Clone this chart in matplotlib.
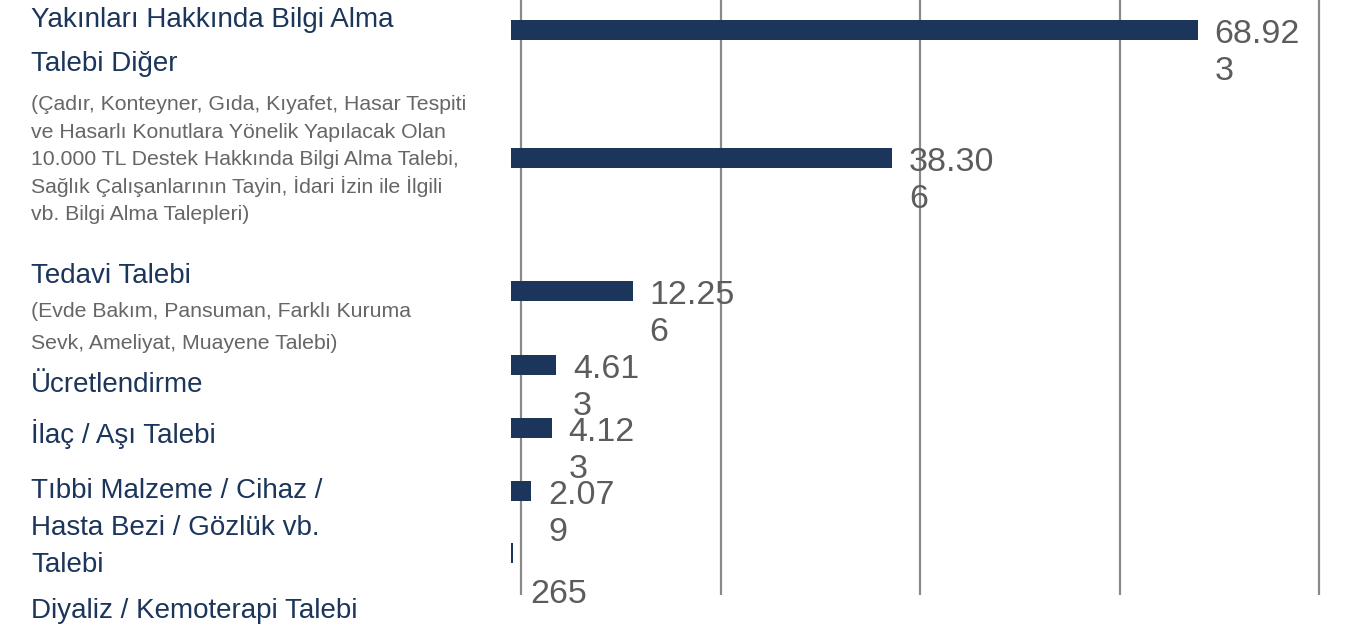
import matplotlib
matplotlib.use("Agg")
import matplotlib.pyplot as plt
import numpy as np

plt.rcParams['font.family'] = ['Liberation Sans', 'DejaVu Sans']

# ---- data ----
values = [68923, 38306, 12256, 4613, 4123, 2079, 265]
value_labels = ["68.92\n3", "38.30\n6", "12.25\n6", "4.61\n3", "4.12\n3", "2.07\n9", "\n265"]

# left-hand category texts (title lines in navy, detail lines in grey)
title_lines = ["Yakınları Hakkında Bilgi Alma", "Talebi Diğer", "Tedavi Talebi",
               "Ücretlendirme", "İlaç / Aşı Talebi", "Tıbbi Malzeme / Cihaz /",
               "Hasta Bezi / Gözlük vb.", "Talebi", "Diyaliz / Kemoterapi Talebi"]
detail_lines = ["(Çadır, Konteyner, Gıda, Kıyafet, Hasar Tespiti",
                "ve Hasarlı Konutlara Yönelik Yapılacak Olan",
                "10.000 TL Destek Hakkında Bilgi Alma Talebi,",
                "Sağlık Çalışanlarının Tayin, İdari İzin ile İlgili",
                "vb. Bilgi Alma Talepleri)",
                "(Evde Bakım, Pansuman, Farklı Kuruma",
                "Sevk, Ameliyat, Muayene Talebi)"]

# ---- layout (pixels) ----
W, H = 1351, 631
row_centers = [30, 158, 291, 365, 428, 491, 553]
bar_h = 20
title_baselines = [27, 71, 283, 392, 443, 498, 535, 572, 618]
detail_baselines = [110, 138, 165, 193, 220, 317, 349]
ax_left, ax_right, ax_bottom = 510.5, 1335, 595
px_per_unit = 0.00997

NAVY = "#1b355b"
GREY_VAL = "#5c5c5c"
GREY_SUB = "#666666"

fig = plt.figure(figsize=(W / 100, H / 100), dpi=100)
ax = fig.add_axes([ax_left / W, (H - ax_bottom) / H, (ax_right - ax_left) / W, ax_bottom / H])
ax.set_xlim(0, (ax_right - ax_left) / px_per_unit)
ax.set_ylim(ax_bottom, 0)

ax.barh(row_centers, values, height=bar_h, color=NAVY, zorder=3)

ax.set_xticks(np.arange(1100, 82000, 20000))
ax.xaxis.grid(True, color="#8a8a8a", linewidth=1.6, zorder=0)
ax.set_axisbelow(True)
ax.tick_params(left=False, bottom=False, labelleft=False, labelbottom=False)
for s in ax.spines.values():
    s.set_visible(False)

for v, yc, lab in zip(values, row_centers, value_labels):
    ax.annotate(lab, xy=(v, yc), xytext=(12, -36), textcoords="offset points",
                ha="left", va="baseline", fontsize=24.5, color=GREY_VAL,
                linespacing=1.25, zorder=4, annotation_clip=False)

for t, b in zip(title_lines, title_baselines):
    fig.text(31 / W, 1 - b / H, t, ha="left", va="baseline", fontsize=20, color=NAVY)
for t, b in zip(detail_lines, detail_baselines):
    fig.text(31 / W, 1 - b / H, t, ha="left", va="baseline", fontsize=15.3, color=GREY_SUB)

fig.savefig("out.png", dpi=100)
